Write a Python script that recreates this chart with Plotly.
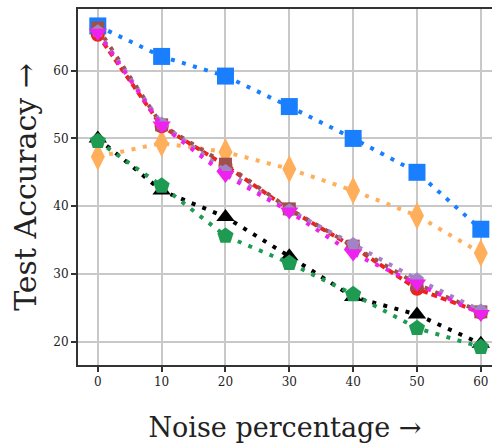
import plotly.graph_objects as go

noise = [0, 10, 20, 30, 40, 50, 60]
blue = [66.6, 62.1, 59.2, 54.7, 50.0, 45.0, 36.6]
orange = [47.3, 49.3, 48.0, 45.5, 42.3, 38.6, 33.1]
black = [50.0, 42.3, 38.4, 32.6, 26.6, 24.0, 19.7]
green = [49.6, 43.0, 35.6, 31.6, 27.0, 22.0, 19.2]
red = [65.3, 51.8, 46.0, 39.5, 34.0, 27.8, 24.3]
brown = [66.3, 52.0, 46.2, 39.6, 34.1, 28.5, 24.4]
purple = [65.8, 52.2, 45.2, 39.4, 34.4, 29.2, 24.6]
magenta = [65.6, 51.9, 44.6, 39.2, 33.0, 28.6, 24.1]

series = [
    (blue, "#1a7fff", "square", 17, "4px,7.5px"),
    (orange, "#ffae5c", "diamond-tall", 20, "4px,7.5px"),
    (black, "#000000", "triangle-up", 16, "4px,7.5px"),
    (green, "#1f9a52", "pentagon", 17, "4px,7.5px"),
    (red, "#ee2020", "circle", 14, "6px,4px"),
    (brown, "#a0504a", "square", 13, "4px,7.5px"),
    (purple, "#a383c6", "pentagon", 14, "4px,7.5px"),
    (magenta, "#ee22ee", "triangle-down", 16, "4px,7.5px"),
]

fig = go.Figure()
for vals, col, sym, sz, dash in series:
    fig.add_trace(go.Scatter(
        x=noise, y=vals, mode="lines+markers",
        line=dict(color=col, width=4, dash=dash),
        marker=dict(symbol=sym, size=sz, color=col, line=dict(width=0)),
        cliponaxis=False,
    ))

font_serif = "DejaVu Serif"
fig.update_layout(
    width=492, height=445,
    margin=dict(l=78, r=0, t=9, b=80),
    plot_bgcolor="white", paper_bgcolor="white",
    showlegend=False,
    xaxis=dict(
        range=[-3.1, 61.75], tickvals=[0, 10, 20, 30, 40, 50, 60],
        showgrid=True, gridcolor="#c8c8c8", gridwidth=1.5,
        showline=True, linecolor="#333333", linewidth=2, mirror=True,
        ticks="outside", ticklen=5, tickwidth=1.5, tickcolor="#333333",
        tickfont=dict(family=font_serif, size=12, color="#222222"),
        zeroline=False,
        title=dict(text="Noise percentage →", font=dict(family=font_serif, size=27, color="#222222"), standoff=30),
    ),
    yaxis=dict(
        range=[16.56, 69.1], tickvals=[20, 30, 40, 50, 60],
        showgrid=True, gridcolor="#c8c8c8", gridwidth=1.5,
        showline=True, linecolor="#333333", linewidth=2, mirror=False,
        ticks="outside", ticklen=5, tickwidth=1.5, tickcolor="#333333",
        tickfont=dict(family=font_serif, size=12, color="#222222"),
        zeroline=False,
        title=dict(text="Test Accuracy →", font=dict(family=font_serif, size=30, color="#222222"), standoff=8),
    ),
)
fig.write_html("out.html")
